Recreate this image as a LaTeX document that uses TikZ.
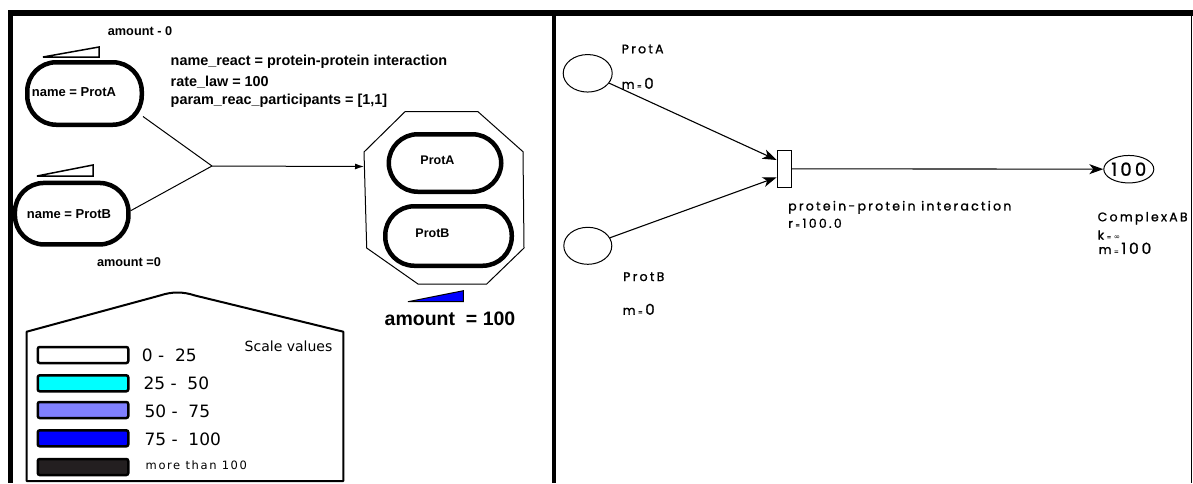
\documentclass[tikz,border=0pt]{standalone}
\usepackage{fontspec}
\setmainfont{Liberation Sans}
\newfontfamily\petri{Poppins}[LetterSpace=18, FakeBold=1.2]
\newfontfamily\scalefont{DejaVu Sans}
\newfontfamily\scalewide{DejaVu Sans}[LetterSpace=14]
\usetikzlibrary{arrows.meta,shapes.geometric}

\definecolor{midfill}{HTML}{00FFFF}
\definecolor{lowblue}{HTML}{8080FF}
\definecolor{highfill}{HTML}{0000FF}
\definecolor{overfill}{HTML}{231F20}

\newcommand{\tinyeq}{{\fontsize{6.5}{7}\selectfont\hspace{2.5pt}=\hspace{2.5pt}}}

\tikzset{
  pill/.style={draw, line width=4.5pt, rounded corners=29pt, inner sep=0pt},
  ptext/.style={inner sep=0pt, font=\fontsize{13}{15}\selectfont\bfseries},
  info/.style={inner sep=0pt, anchor=west, font=\fontsize{14.4}{16}\selectfont\bfseries},
  swatch/.style={draw, line width=2.5pt, rounded corners=2pt, inner sep=0pt,
    minimum width=90.5pt, minimum height=16pt},
  swlabel/.style={inner sep=0pt, anchor=west, font=\fontsize{17}{19}\selectfont\scalefont},
  place/.style={draw, ellipse, line width=1pt, inner sep=0pt},
  trans/.style={draw, rectangle, line width=1pt, inner sep=0pt},
  pn/.style={inner sep=0pt, anchor=west, font=\fontsize{12.5}{14}\selectfont\petri},
  arc/.style={line width=1.1pt, -{Stealth[length=14pt, width=10pt, inset=4pt]}},
}

\begin{document}
\begin{tikzpicture}[x=1pt, y=-1pt]
\useasboundingbox (0,0) rectangle (1193,483);

% frame and divider
\fill (8,10) rectangle (1193,16);
\fill (8,10) rectangle (13,483);
\fill (552,10) rectangle (556,483);
\draw[line width=1.2pt] (1191.4,16) -- (1191.4,483);

% ---------- left panel: reaction sketch ----------
\node[pill, minimum width=114.5pt, minimum height=62.5pt] (pa) at (84.5,93.5) {};
\node[ptext] (pa-name) at (74,92) {name = ProtA};
\node[pill, minimum width=113.5pt, minimum height=61.5pt] (pb) at (71.7,213.7) {};
\node[ptext] (pb-name) at (69,214) {name = ProtB};

% amount wedges
\draw[line width=1.5pt] (43,57) -- (99,47) -- (99,57) -- cycle;
\draw[line width=1.5pt] (37,176) -- (93,165) -- (93,176) -- cycle;

\node[ptext, font=\fontsize{12.7}{14}\selectfont\bfseries] (amt-a) at (140,31.5) {amount - 0};
\node[ptext, font=\fontsize{12.7}{14}\selectfont\bfseries] (amt-b) at (129,261.7) {amount =0};

\node[info] (react) at (170.5,62) {name\_react = protein-protein interaction};
\node[info] (rate) at (170.5,82) {rate\_law = 100};
\node[info] (param) at (170.5,101) {param\_reac\_participants = [1,1]};

% complex
\coordinate (c-in) at (364,166.5);
\draw[line width=1pt] (405,111.7) -- (478,111.7) -- (523,151.7) -- (524,248)
  -- (486.7,284) -- (418,284) -- (366.7,248) -- (364,152) -- cycle;
\node[pill, minimum width=112.5pt, minimum height=57.5pt] (ca) at (445,163) {};
\node[ptext, font=\fontsize{12.5}{14}\selectfont\bfseries] (ca-name) at (437.5,160) {ProtA};
\node[pill, minimum width=126.5pt, minimum height=59.5pt] (cb) at (448.5,236) {};
\node[ptext, font=\fontsize{12.5}{14}\selectfont\bfseries] (cb-name) at (432.5,233) {ProtB};

\draw[fill=highfill, line width=1pt] (408,301.7) -- (463.3,290.7) -- (463.3,301.7) -- cycle;
\node[ptext, font=\fontsize{19.5}{22}\selectfont\bfseries] (amt-c) at (450,319) {amount\ \ = 100};

% reaction edges
\coordinate (join) at (212,166);
\draw[line width=1pt] ([shift={(-1,23)}]pa.east) -- (join);
\draw[line width=1pt] ([shift={(0,-3)}]pb.east) -- (join);
\draw[line width=1pt, -{Latex[length=9pt, width=6pt]}] (join) -- (c-in);

% legend
\draw[line width=2pt, line join=round] (26.7,331.7) -- (160,295.5)
  .. controls (172,291.5) and (183,291.5) .. (195,295.5)
  -- (343.3,331.7) -- (343.3,481) -- (26.7,481) -- cycle;
\node[inner sep=0pt, anchor=west, font=\fontsize{14}{16}\selectfont\scalefont] (sv) at (244.5,346.5) {Scale values};
\node[swatch, fill=white] (s1) at (83,355) {};
\node[swatch, fill=midfill] (s2) at (83,383.3) {};
\node[swatch, fill=lowblue] (s3) at (83,410) {};
\node[swatch, fill=highfill] (s4) at (83,438.3) {};
\node[swatch, fill=overfill] (s5) at (83,467) {};
\node[swlabel] (l1) at (141.7,355.5) {0 -\ \ 25};
\node[swlabel] (l2) at (143.3,383.5) {25 -\ \ 50};
\node[swlabel] (l3) at (144.3,411.5) {50 -\ \ 75};
\node[swlabel] (l4) at (144.3,439.5) {75 -\ \ 100};
\node[inner sep=0pt, anchor=west, font=\fontsize{11.5}{13}\selectfont\scalewide] (l5) at (145.5,465) {more than 100};

% ---------- right panel: Petri net ----------
\node[place, minimum width=49pt, minimum height=37.5pt] (pA) at (587.7,73.3) {};
\node[place, minimum width=48pt, minimum height=37pt] (pB) at (587.8,245.8) {};
\node[trans, minimum width=14.3pt, minimum height=36.7pt] (t) at (784.3,168.8) {};
\node[place, minimum width=50pt, minimum height=27.5pt,
      font=\fontsize{18}{19}\selectfont\petri] (pC) at (1128.8,169.2) {100};

\draw[arc] (pA) -- ([yshift=8.8pt]t.west);
\draw[arc] (pB) -- ([yshift=-8.5pt]t.west);
\draw[arc] (t.east) -- (pC);

\node[pn] (pA-name) at (621.5,49) {ProtA};
\node[pn] (pA-m) at (621.5,83.3) {m\tinyeq{\fontsize{15}{16}\selectfont 0}};
\node[pn] (pB-name) at (623,276.7) {ProtB};
\node[pn] (pB-m) at (622.5,309.3) {m\tinyeq{\fontsize{15}{16}\selectfont 0}};

\node[pn] (t-name) at (788,207.3) {protein-protein interaction};
\node[pn] (t-rate) at (788,223.3) {r\tinyeq 100.0};

\node[pn] (pC-name) at (1097.5,218.3) {ComplexAB};
\node[pn] (pC-k) at (1097.5,235) {k\tinyeq{\fontsize{7.5}{8}\selectfont\scalefont ∞}};
\node[pn] (pC-m) at (1098.5,248.3) {m\tinyeq{\fontsize{15.5}{16}\selectfont 100}};
\end{tikzpicture}
\end{document}
